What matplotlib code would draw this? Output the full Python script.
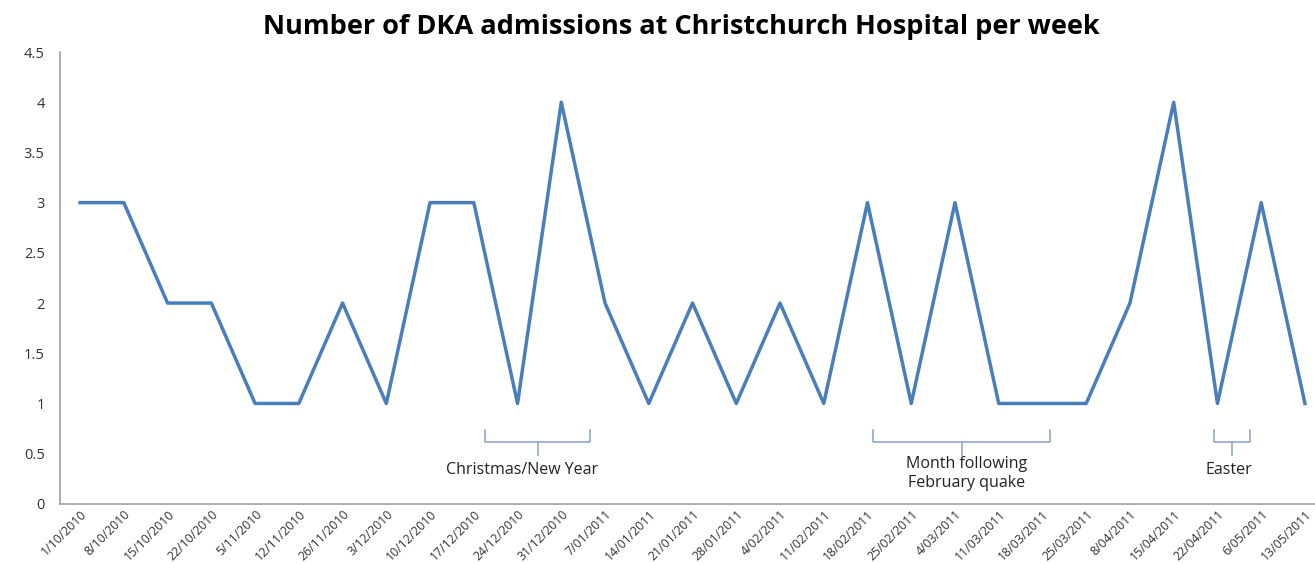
import matplotlib.pyplot as plt

weeks = ["1/10/2010", "8/10/2010", "15/10/2010", "22/10/2010", "5/11/2010",
         "12/11/2010", "26/11/2010", "3/12/2010", "10/12/2010", "17/12/2010",
         "24/12/2010", "31/12/2010", "7/01/2011", "14/01/2011", "21/01/2011",
         "28/01/2011", "4/02/2011", "11/02/2011", "18/02/2011", "25/02/2011",
         "4/03/2011", "11/03/2011", "18/03/2011", "25/03/2011", "8/04/2011",
         "15/04/2011", "22/04/2011", "6/05/2011", "13/05/2011"]
admissions = [3, 3, 2, 2, 1, 1, 2, 1, 3, 3, 1, 4, 2, 1, 2, 1, 2, 1, 3, 1,
              3, 1, 1, 1, 2, 4, 1, 3, 1]

# bracket spans (category positions), label centre and labels
brackets = [(9.26, 11.66, 10.1, "Christmas/New Year"),
            (18.13, 22.17, 20.27, "Month following\nFebruary quake"),
            (25.92, 26.74, 26.26, "Easter")]

plt.rcParams['font.family'] = ['Open Sans', 'DejaVu Sans']

fig = plt.figure(figsize=(13.15, 5.63), dpi=100)
ax = fig.add_axes([0.0456, 0.105, 0.9544, 0.8026])

x = list(range(len(weeks)))
ax.plot(x, admissions, color='#4A7EBB', linewidth=2.5)

ax.set_xlim(-0.46, 28.23)
ax.set_ylim(0, 4.5)
ax.set_yticks([i * 0.5 for i in range(10)])
ax.set_yticklabels(["0", "0.5", "1", "1.5", "2", "2.5", "3", "3.5", "4", "4.5"],
                   fontsize=10.5, color='#333333')
ax.set_xticks(x)
ax.set_xticklabels(weeks, rotation=45, ha='right', rotation_mode='anchor',
                   fontsize=8.8, color='#333333')
ax.tick_params(axis='x', length=0, pad=3)
ax.tick_params(axis='y', length=0, pad=11)

for s in ['top', 'right']:
    ax.spines[s].set_visible(False)
ax.spines['left'].set_color('#A0A0A0')
ax.spines['bottom'].set_color('#A0A0A0')
ax.spines['left'].set_linewidth(1.2)
ax.spines['bottom'].set_linewidth(1.2)

bc = '#8FA8C8'
for x0, x1, xt, label in brackets:
    xm = (x0 + x1) / 2
    ax.plot([x0, x0, x1, x1], [0.74, 0.62, 0.62, 0.74], color=bc, lw=1.2)
    ax.plot([xm, xm], [0.62, 0.49], color=bc, lw=1.2)
    ax.text(xt, 0.34 if "\n" not in label else 0.305, label,
            ha='center', va='center', fontsize=11.5, color='#222222',
            linespacing=1.25)

fig.suptitle("Number of DKA admissions at Christchurch Hospital per week",
             x=0.518, y=0.975, fontsize=19.5, fontweight='bold')

fig.savefig("out.png", dpi=100)
